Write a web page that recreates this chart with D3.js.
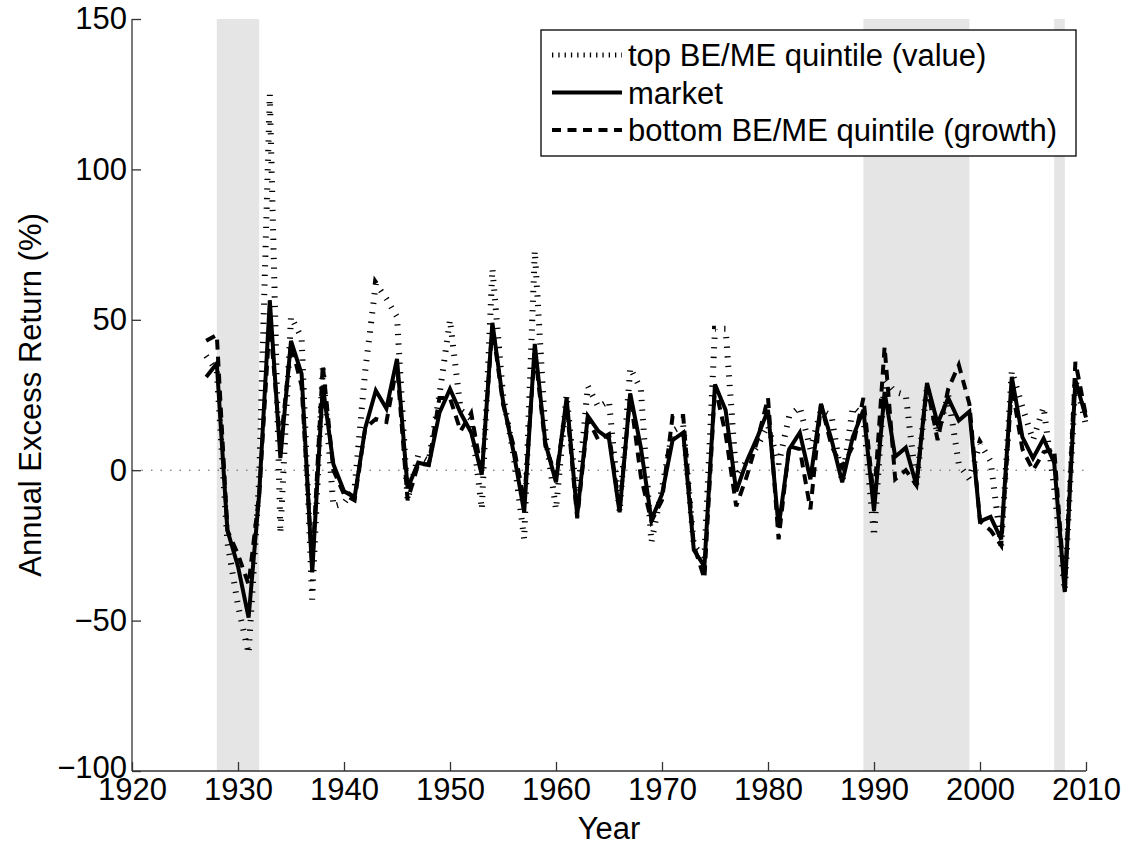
<!DOCTYPE html>
<html>
<head>
<meta charset="utf-8">
<script src="https://cdn.jsdelivr.net/npm/d3@7"></script>
<style>
  body { margin: 0; background: #fff; }
  text { font-family: "Liberation Sans", Arial, Helvetica, sans-serif; }
</style>
</head>
<body>
<div id="viz"></div>
<script>
(function () {
  var years = d3.range(1927, 2011);

  // annual excess returns, %, 1927-2010
  var market = [31, 35.5, -20, -32, -49, -8, 56.5, 4, 43, 32,
    -34, 28, 2, -7, -9, 14, 26.5, 20.5, 37, -6,
    2.5, 1.7, 19, 27, 19, 12.5, -1.5, 49, 23, 6,
    -14, 42, 9, -4, 24, -15, 18, 13, 10.5, -14,
    25.5, 7.7, -16.5, -8, 10, 12.5, -26.5, -32, 28.5, 20,
    -7, 3, 11, 20, -19, 7, 12.5, -3, 22, 10,
    -4, 11, 20, -13.5, 26, 4.5, 7.5, -5, 29, 15.5,
    24, 16.5, 19.5, -17, -15.5, -23, 31, 11, 4, 10.5,
    2.5, -40.5, 30, 17.5];

  var value = [38, 33, -24, -45, -61, -3, 125, -21, 51, 44,
    -43, 34, -12, -11, -6, 33, 62, 57, 51, -10,
    5, 3, 25, 50, 20, 17, -13, 67, 25, 5,
    -23, 73, 12, -13, 25, -11, 28, 21, 23, -14,
    34, 27, -24, -6, 13, 15, -25, -29, 47, 47,
    -2, 3, 8, 15, 2, 18, 21, 7, 20, 18,
    -4, 21, 18, -22, 30, 26, 25, -5, 28, 12,
    25, 2, -3, 9, 3, -25, 33, 21, 10, 21,
    -6, -40, 30, 15];

  var growth = [43, 45, -20, -28, -38, -8, 50, 8, 42, 28,
    -32, 35, 0, -8, -10, 14, 17, 16, 35, -10,
    2, 2, 24, 24, 13, 19, -1, 48, 22, 8,
    -10, 40, 8, -2, 22, -16, 17, 10, 12, -13,
    25, -2, -17, -10, 18, 18, -25, -36, 28, 12,
    -12, -2, 10, 24, -23, 8, 7, -13, 22, 8,
    1, 8, 24, -10, 41, -3, 0, -5, 28, 10,
    27, 35, 22, -17, -20, -25, 28, 7, 0, 6,
    7, -40, 36, 18];

  // shaded periods
  var shades = [[1928, 1932], [1989, 1999], [2007, 2008]];

  var xTicks = [1920, 1930, 1940, 1950, 1960, 1970, 1980, 1990, 2000, 2010];
  var yTicks = [-100, -50, 0, 50, 100, 150];

  var legendLabels = ['top BE/ME quintile (value)', 'market', 'bottom BE/ME quintile (growth)'];

  var width = 1126, height = 846;
  var left = 132, right = 1086, top = 19, bottom = 771;
  var fontSize = '31px';

  var svg = d3.select('#viz').append('svg')
    .attr('width', width)
    .attr('height', height);

  var x = d3.scaleLinear().domain([1920, 2010]).range([left, right]);
  var y = d3.scaleLinear().domain([-100, 150]).range([bottom, top]);

  // grey bands
  svg.append('g').selectAll('rect')
    .data(shades)
    .enter().append('rect')
    .attr('x', function (d) { return x(d[0]); })
    .attr('width', function (d) { return x(d[1]) - x(d[0]); })
    .attr('y', top)
    .attr('height', bottom - top)
    .attr('fill', '#e5e5e5');

  // zero line
  svg.append('line')
    .attr('x1', x(1920)).attr('x2', x(2010))
    .attr('y1', y(0)).attr('y2', y(0))
    .attr('stroke', '#555')
    .attr('stroke-width', 1)
    .attr('stroke-dasharray', '1.5,8');

  var line = function (vals) {
    return d3.line()
      .x(function (d, i) { return x(years[i]); })
      .y(function (d) { return y(d); })(vals);
  };

  var styles = [
    { data: value, width: 6, dash: '1.3,8.3', color: '#000' },
    { data: market, width: 4, dash: null, color: '#000' },
    { data: growth, width: 4, dash: '10,7', color: '#000' }
  ];

  styles.forEach(function (s) {
    svg.append('path')
      .attr('d', line(s.data))
      .attr('fill', 'none')
      .attr('stroke', s.color)
      .attr('stroke-width', s.width)
      .attr('stroke-linejoin', 'miter')
      .attr('stroke-dasharray', s.dash);
  });

  // axes, ticks inside
  var xAxis = d3.axisBottom(x).tickValues(xTicks).tickSize(-9).tickPadding(7).tickFormat(d3.format('d'));
  var yAxis = d3.axisLeft(y).tickValues(yTicks).tickSize(-9).tickPadding(5)
    .tickFormat(function (d) { return d < 0 ? '\u2212' + Math.abs(d) : d; });

  var gx = svg.append('g').attr('transform', 'translate(0,' + bottom + ')').call(xAxis);
  var gy = svg.append('g').attr('transform', 'translate(' + left + ',0)').call(yAxis);

  [gx, gy].forEach(function (g) {
    g.select('.domain').attr('stroke', '#333').attr('stroke-width', 1.3);
    g.selectAll('.tick line').attr('stroke', '#333').attr('stroke-width', 1.3);
    g.selectAll('.tick text').attr('fill', '#000').style('font-size', fontSize);
  });
  gy.select('.domain').attr('d', 'M0,' + top + 'V' + bottom);
  gx.select('.domain').attr('d', 'M' + left + ',0H' + right);
  // lift the bottom y label a little so it clears the 1920 label
  gy.selectAll('.tick text').filter(function (d) { return d === -100; }).attr('dy', '0.2em');

  svg.append('text')
    .attr('x', (left + right) / 2)
    .attr('y', 839)
    .attr('text-anchor', 'middle')
    .style('font-size', fontSize)
    .text('Year');

  svg.append('text')
    .attr('transform', 'translate(41,' + (top + bottom) / 2 + ') rotate(-90)')
    .attr('text-anchor', 'middle')
    .style('font-size', fontSize)
    .text('Annual Excess Return (%)');

  // legend
  var lg = svg.append('g');
  lg.append('rect')
    .attr('x', 541).attr('y', 30)
    .attr('width', 535).attr('height', 126)
    .attr('fill', '#fff')
    .attr('stroke', '#000')
    .attr('stroke-width', 1.3);

  var legendDash = ['1.3,5', null, '9,6.5'];
  var legendWidth = [5, 4, 4];
  legendLabels.forEach(function (lab, i) {
    var ly = 55 + i * 37.5;
    lg.append('line')
      .attr('x1', 552).attr('x2', 622)
      .attr('y1', ly).attr('y2', ly)
      .attr('stroke', '#000')
      .attr('stroke-width', legendWidth[i])
      .attr('stroke-dasharray', legendDash[i]);
    lg.append('text')
      .attr('x', 628)
      .attr('y', ly + 11)
      .style('font-size', fontSize)
      .text(lab);
  });
})();
</script>
</body>
</html>
